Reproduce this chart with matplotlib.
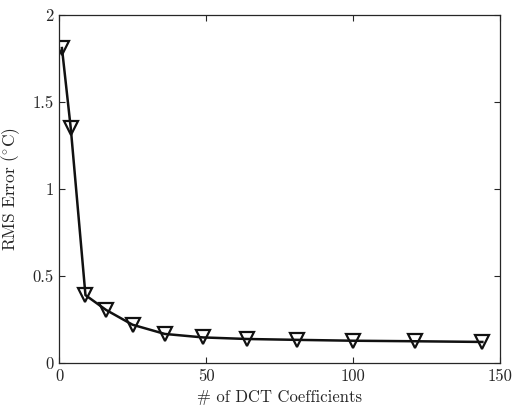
import matplotlib
matplotlib.use("Agg")
import matplotlib.pyplot as plt

# number of DCT coefficients kept vs RMS error
n_coeffs = [1, 4, 9, 16, 25, 36, 49, 64, 81, 100, 121, 144]
rms_err = [1.81, 1.35, 0.39, 0.305, 0.22, 0.167, 0.147, 0.138, 0.133, 0.128, 0.125, 0.121]

x_ticks = [0, 50, 100, 150]
y_ticks = [0, 0.5, 1, 1.5, 2]
y_labels = ["0", "0.5", "1", "1.5", "2"]

plt.rcParams["font.family"] = "serif"
plt.rcParams["font.serif"] = ["cmr10"]
plt.rcParams["mathtext.fontset"] = "cm"
plt.rcParams["axes.formatter.use_mathtext"] = True

fig = plt.figure(figsize=(5.12, 4.08), dpi=100)
ax = fig.add_axes([59 / 512, 1 - 363 / 408, 441 / 512, 348 / 408])

ax.plot(n_coeffs, rms_err, color="#111111", lw=1.8, marker="v",
        markersize=10, markerfacecolor="none", markeredgecolor="#111111",
        markeredgewidth=1.6)

ax.set_xlim(0, 150)
ax.set_ylim(0, 2)
ax.set_xticks(x_ticks)
ax.set_xticklabels([str(t) for t in x_ticks])
ax.set_yticks(y_ticks)
ax.set_yticklabels(y_labels)

ax.tick_params(direction="in", length=4, width=0.8, top=True, right=True,
               labelsize=12, colors="#262626", pad=4)
for s in ax.spines.values():
    s.set_color("#262626")
    s.set_linewidth(0.9)

ax.set_xlabel("# of DCT Coefficients", fontsize=12, color="#262626", labelpad=4)
ax.set_ylabel(r"$\mathrm{RMS\ Error\ ({}^{\circ}C)}$", fontsize=12.5,
              color="#262626", labelpad=7)

fig.savefig("out.png", dpi=100)
